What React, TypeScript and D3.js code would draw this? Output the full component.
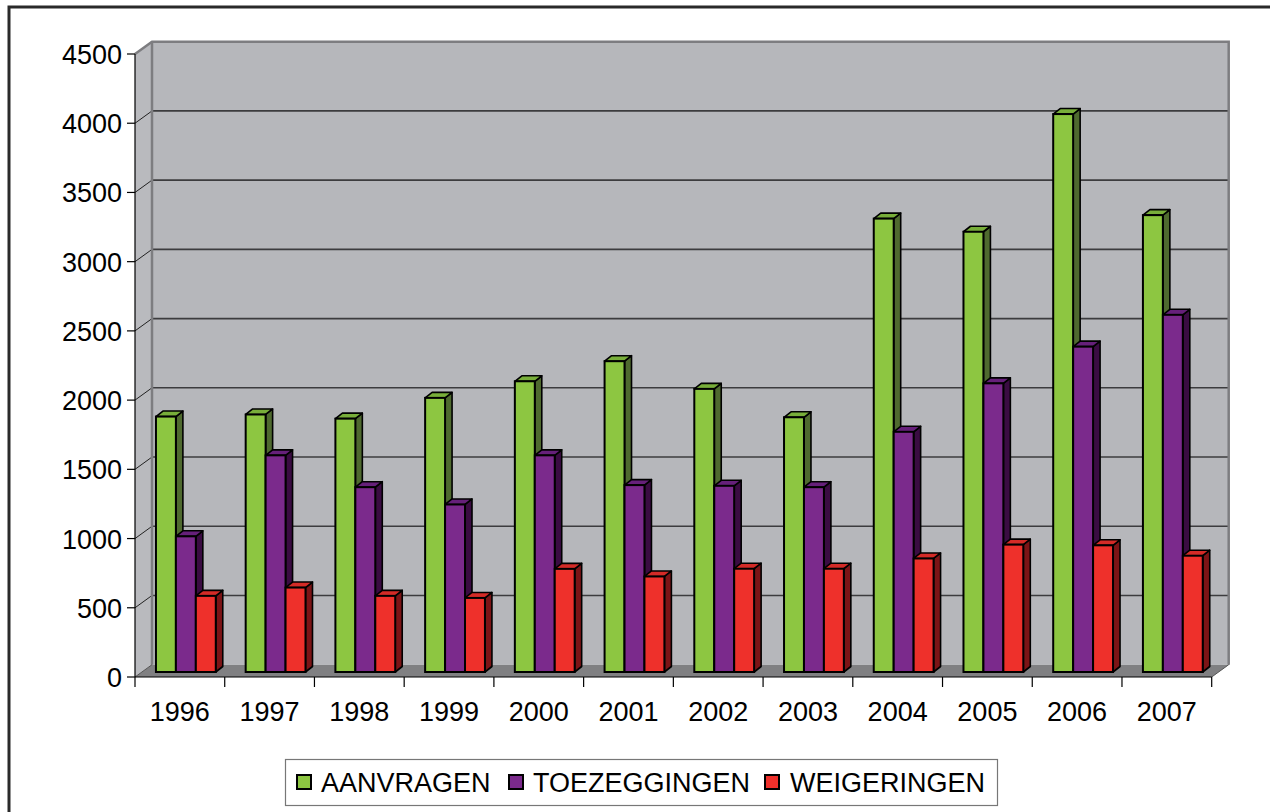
import React from "react";
import * as d3 from "d3";

const years = ["1996","1997","1998","1999","2000","2001","2002","2003","2004","2005","2006","2007"];
const seriesNames = ["AANVRAGEN","TOEZEGGINGEN","WEIGERINGEN"];
const aanvragen = [1845,1860,1830,1980,2100,2245,2045,1840,3275,3180,4030,3300];
const toezeggingen = [980,1565,1335,1210,1565,1350,1345,1335,1735,2085,2350,2580];
const weigeringen = [550,610,550,535,745,690,746,746,820,920,915,840];
const yTicks = [0,500,1000,1500,2000,2500,3000,3500,4000,4500];

const frontColors = ["#8DC641","#7B2A8C","#EE302B"];
const topColors = ["#78AE3A","#66207A","#D42B27"];
const sideColors = ["#4F6A2F","#3A0C42","#7C1416"];

const FONT = "'Liberation Sans', Arial, sans-serif";

export default function App() {
  const W = 1270, H = 812;
  const x0 = 135, x1 = 1211.7, y0 = 677, yTop = 54;
  const wdx = 17, wdy = -12.3; // wall depth offset
  const fx = 6, fy = -5; // bar front plane offset
  const bdx = 7, bdy = -5.5; // bar depth

  const y = d3.scaleLinear().domain([0, 4500]).range([y0, yTop]);
  const x = d3.scaleBand<string>().domain(years).range([x0, x1]).paddingInner(0).paddingOuter(0);
  const xs = d3.scaleBand<string>().domain(seriesNames).range([0, x.bandwidth()]).paddingInner(0).paddingOuter(0.75);
  const data = [aanvragen, toezeggingen, weigeringen];

  const bars: React.ReactNode[] = [];
  years.forEach((yr, i) => {
    seriesNames.forEach((s, j) => {
      const v = data[j][i];
      const bx = (x(yr) as number) + (xs(s) as number) + fx;
      const bw = xs.bandwidth();
      const top = y(v) + fy;
      const bot = y(0) + fy;
      const side = `M${bx + bw},${top} L${bx + bw + bdx},${top + bdy} L${bx + bw + bdx},${bot + bdy} L${bx + bw},${bot} Z`;
      const topF = `M${bx},${top} L${bx + bdx},${top + bdy} L${bx + bw + bdx},${top + bdy} L${bx + bw},${top} Z`;
      bars.push(
        <g key={`${yr}-${s}`}>
          <path d={side} fill={sideColors[j]} stroke="#000" strokeWidth={1.6} strokeLinejoin="round" />
          <path d={topF} fill={topColors[j]} stroke="#000" strokeWidth={1.6} strokeLinejoin="round" />
          <rect x={bx} y={top} width={bw} height={bot - top} fill={frontColors[j]} stroke="#000" strokeWidth={2} />
        </g>
      );
    });
  });

  const legendItems = [
    { name: seriesNames[0], sx: 297, tx: 321 },
    { name: seriesNames[1], sx: 509, tx: 533 },
    { name: seriesNames[2], sx: 765, tx: 790 },
  ];

  return (
    <svg width={W} height={H} style={{ position: "absolute", left: 0, top: 0 }} fontFamily={FONT}>
      <rect x={0} y={0} width={W} height={H} fill="#fff" />
      <rect x={9} y={7} width={1400} height={1000} fill="none" stroke="#2a2a2a" strokeWidth={3} />

      {/* side wall */}
      <path d={`M${x0},${yTop} L${x0 + wdx},${yTop + wdy} L${x0 + wdx},${y0 + wdy} L${x0},${y0} Z`} fill="#B9BABE" />
      {/* back wall */}
      <rect x={x0 + wdx} y={yTop + wdy} width={x1 - x0} height={y0 - yTop} fill="#B6B7BB" />
      {/* floor */}
      <path d={`M${x0},${y0} L${x0 + wdx},${y0 + wdy} L${x1 + wdx},${y0 + wdy} L${x1},${y0} Z`} fill="#808082" />

      {/* gridlines */}
      {yTicks.filter(t => t > 0 && t < 4500).map(t => (
        <g key={`g${t}`}>
          <line x1={x0 + wdx} x2={x1 + wdx} y1={y(t) + wdy} y2={y(t) + wdy} stroke="#3c3c3e" strokeWidth={1.6} />
          <line x1={x0} x2={x0 + wdx} y1={y(t)} y2={y(t) + wdy} stroke="#222" strokeWidth={1} />
        </g>
      ))}
      {/* wall outlines */}
      <path d={`M${x0},${yTop} L${x0 + wdx},${yTop + wdy} L${x1 + wdx},${yTop + wdy} L${x1 + wdx},${y0 + wdy}`} fill="none" stroke="#7d7d80" strokeWidth={2.5} />
      <line x1={x0 + wdx} x2={x0 + wdx} y1={yTop + wdy} y2={y0 + wdy} stroke="#7d7d80" strokeWidth={2.5} />
      <line x1={x0} x2={x0 + wdx} y1={y0} y2={y0 + wdy} stroke="#555" strokeWidth={1} />
      <line x1={x1} x2={x1 + wdx} y1={y0} y2={y0 + wdy} stroke="#555" strokeWidth={1} />

      {bars}

      {/* y axis */}
      <line x1={x0} x2={x0} y1={yTop} y2={y0} stroke="#000" strokeWidth={1.2} />
      {yTicks.map(t => (
        <g key={`yt${t}`}>
          <line x1={x0 - 8} x2={x0} y1={y(t)} y2={y(t)} stroke="#000" strokeWidth={1.2} />
          <text x={122} y={y(t) + 10} textAnchor="end" fontSize={27} fill="#000">{t}</text>
        </g>
      ))}
      {/* x axis */}
      <line x1={x0} x2={x1} y1={y0} y2={y0} stroke="#000" strokeWidth={1.2} />
      {[...years.map(yr => x(yr) as number), x1].map((px, k) => (
        <line key={`xt${k}`} x1={px} x2={px} y1={y0} y2={y0 + 10} stroke="#000" strokeWidth={1.2} />
      ))}
      {years.map(yr => (
        <text key={`xl${yr}`} x={(x(yr) as number) + x.bandwidth() / 2} y={721} textAnchor="middle" fontSize={27} fill="#000">{yr}</text>
      ))}

      {/* legend */}
      <rect x={285.5} y={759.5} width={712} height={46} fill="#fff" stroke="#777" strokeWidth={1.2} />
      {legendItems.map((it, j) => (
        <g key={it.name}>
          <rect x={it.sx} y={775} width={14} height={14} fill={frontColors[j]} stroke="#000" strokeWidth={2} />
          <text x={it.tx} y={792} fontSize={27} fill="#000">{it.name}</text>
        </g>
      ))}
    </svg>
  );
}
